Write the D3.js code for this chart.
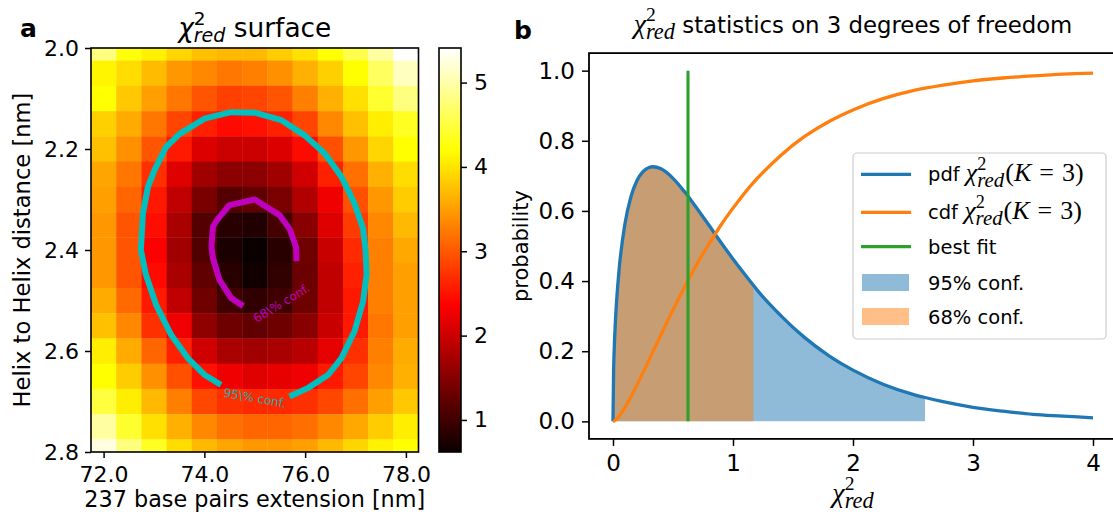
<html>
<head>
<script src="https://d3js.org/d3.v7.min.js"></script>
<style>
body { margin: 0; background: #fff; }
text { font-family: "DejaVu Sans"; fill: #000; }
</style>
</head>
<body>
<svg id="fig" width="1113" height="517"></svg>
<script>
// ---- panel a: chi2_red surface ----
const extension = [72.0, 72.5, 73.0, 73.5, 74.0, 74.5, 75.0, 75.5, 76.0, 76.5, 77.0, 77.5, 78.0];
const helixDist = [2.0, 2.05, 2.1, 2.15, 2.2, 2.25, 2.3, 2.35, 2.4, 2.45, 2.5, 2.55, 2.6, 2.65, 2.7, 2.75, 2.8];
// one row per helix distance, one value per extension
const chiRows = [
  [4.80, 4.25, 4.09, 3.90, 3.74, 3.69, 3.70, 3.83, 3.97, 4.19, 4.55, 4.96, 5.41],
  [4.12, 3.95, 3.71, 3.46, 3.34, 3.22, 3.28, 3.40, 3.63, 3.86, 4.19, 4.65, 5.11],
  [4.20, 3.80, 3.51, 3.22, 2.98, 2.83, 2.86, 2.98, 3.28, 3.63, 3.97, 4.42, 4.80],
  [3.86, 3.59, 3.22, 2.86, 2.60, 2.43, 2.48, 2.60, 2.86, 3.34, 3.74, 4.07, 4.35],
  [3.74, 3.40, 2.98, 2.55, 2.12, 2.00, 2.00, 2.12, 2.44, 2.94, 3.46, 3.89, 4.19],
  [3.55, 3.22, 2.71, 2.14, 1.69, 1.54, 1.54, 1.69, 2.03, 2.60, 3.17, 3.63, 3.95],
  [3.51, 3.10, 2.54, 1.92, 1.42, 1.15, 1.23, 1.42, 1.80, 2.26, 2.94, 3.46, 3.83],
  [3.46, 2.98, 2.46, 1.75, 1.15, 0.83, 0.77, 1.04, 1.52, 2.12, 2.80, 3.34, 3.69],
  [3.46, 2.98, 2.37, 1.69, 1.12, 0.73, 0.62, 0.84, 1.34, 1.98, 2.67, 3.28, 3.57],
  [3.46, 2.98, 2.43, 1.75, 1.23, 0.84, 0.66, 0.89, 1.30, 1.92, 2.60, 3.28, 3.51],
  [3.59, 3.13, 2.55, 1.92, 1.34, 1.00, 0.89, 1.00, 1.34, 1.92, 2.54, 3.28, 3.51],
  [3.74, 3.34, 2.71, 2.26, 1.57, 1.34, 1.23, 1.34, 1.52, 1.98, 2.55, 3.22, 3.51],
  [4.07, 3.59, 3.10, 2.60, 2.03, 1.75, 1.69, 1.75, 1.86, 2.20, 2.71, 3.28, 3.59],
  [4.19, 3.83, 3.40, 2.94, 2.48, 2.26, 2.14, 2.20, 2.26, 2.55, 2.86, 3.34, 3.63],
  [4.50, 4.07, 3.69, 3.28, 2.88, 2.71, 2.66, 2.66, 2.71, 2.88, 3.17, 3.51, 3.80],
  [4.96, 4.42, 3.97, 3.63, 3.34, 3.17, 3.10, 3.10, 3.17, 3.34, 3.57, 3.83, 4.07],
  [5.26, 4.80, 4.35, 3.95, 3.69, 3.55, 3.46, 3.46, 3.51, 3.69, 3.89, 4.09, 4.19]
];
const chiRange = [0.62, 5.41];
// contour lines [extension, helix distance]
const conf95Line = [
  [74.33, 2.667], [74.00, 2.647], [73.67, 2.614], [73.34, 2.568], [73.04, 2.508], [72.84, 2.449],
  [72.74, 2.400], [72.78, 2.328], [72.88, 2.275], [73.01, 2.242], [73.24, 2.196], [73.51, 2.170],
  [74.00, 2.140], [74.53, 2.127], [75.00, 2.128], [75.53, 2.143], [75.99, 2.173], [76.39, 2.209],
  [76.72, 2.255], [76.98, 2.308], [77.15, 2.358], [77.20, 2.400], [77.22, 2.449], [77.15, 2.502],
  [76.98, 2.561], [76.72, 2.614], [76.46, 2.647], [76.06, 2.673], [75.69, 2.690]
];
const conf68Line = [
  [74.77, 2.511], [74.53, 2.495], [74.30, 2.459], [74.17, 2.416], [74.14, 2.394], [74.17, 2.354],
  [74.27, 2.338], [74.50, 2.311], [75.00, 2.300], [75.49, 2.331], [75.69, 2.358], [75.82, 2.394],
  [75.83, 2.422]
];
const aTicksX = [72, 74, 76, 78];
const aTicksY = [2.0, 2.2, 2.4, 2.6, 2.8];
const cbTicks = [1, 2, 3, 4, 5];

// ---- panel b: chi2_red distribution, K = 3 ----
const redChi = [0, 0.005, 0.01, 0.02, 0.03, 0.05, 0.1, 0.15, 0.2, 0.25, 0.3, 0.333, 0.4, 0.5, 0.6, 0.7, 0.8, 0.9, 1.0,
  1.17, 1.2, 1.4, 1.6, 1.8, 2.0, 2.25, 2.5, 2.6, 2.75, 3.0, 3.25, 3.5, 3.75, 4.0];
const pdfVals = [0, 0.146, 0.204, 0.285, 0.343, 0.430, 0.564, 0.641, 0.687, 0.712, 0.724, 0.726, 0.720, 0.693, 0.653, 0.607, 0.559, 0.510, 0.463,
  0.388, 0.375, 0.301, 0.238, 0.187, 0.146, 0.106, 0.077, 0.068, 0.056, 0.040, 0.029, 0.020, 0.015, 0.010];
const cdfVals = [0, 0.0005, 0.0014, 0.0038, 0.0070, 0.0148, 0.040, 0.070, 0.104, 0.139, 0.175, 0.199, 0.247, 0.318, 0.385, 0.449, 0.506, 0.560, 0.608,
  0.681, 0.692, 0.759, 0.813, 0.855, 0.888, 0.920, 0.943, 0.950, 0.959, 0.971, 0.979, 0.985, 0.990, 0.993];
const bestFit = 0.625;
const conf68Limit = 1.17;
const conf95Limit = 2.6;
const bTicksX = [0, 1, 2, 3, 4];
const bTicksY = [0.0, 0.2, 0.4, 0.6, 0.8, 1.0];

const svg = d3.select("#fig");

// matplotlib "hot"
function hot(t) {
  t = Math.max(0, Math.min(1, t));
  const r = t < 0.365079 ? 0.0416 + (1 - 0.0416) * t / 0.365079 : 1;
  const g = t < 0.365079 ? 0 : t < 0.746032 ? (t - 0.365079) / (0.746032 - 0.365079) : 1;
  const b = t < 0.746032 ? 0 : (t - 0.746032) / (1 - 0.746032);
  return d3.rgb(r * 255, g * 255, b * 255).toString();
}

// chi^2 with super/subscript, appended to a text element
function chiRed(t, font, size, supW, subScale) {
  t.append("tspan").attr("font-family", font).attr("font-style", "italic").attr("font-size", size).text("χ");
  t.append("tspan").attr("font-family", font).attr("font-size", size * 0.7).attr("dy", -size * 0.42).text("2");
  t.append("tspan").attr("font-family", font).attr("font-style", "italic")
    .attr("font-size", size * subScale).attr("dx", -supW).attr("dy", size * 0.62).text("red");
}

function styleAxis(g, font, size) {
  g.select(".domain").remove();
  g.selectAll(".tick line").attr("stroke", "#000").attr("stroke-width", 1.5);
  g.selectAll(".tick text").attr("font-family", font).attr("font-size", size).attr("fill", "#000");
}

// ---------- panel a ----------
const xA = d3.scaleLinear().domain([71.75, 78.25]).range([91, 418.5]);
const yA = d3.scaleLinear().domain([2.0, 2.8]).range([48, 452]);
const color = d3.scaleSequential(hot).domain(chiRange);

svg.append("clipPath").attr("id", "clipA").append("rect")
  .attr("x", xA.range()[0]).attr("y", yA.range()[0])
  .attr("width", xA.range()[1] - xA.range()[0]).attr("height", yA.range()[1] - yA.range()[0]);

const halfW = (extension[1] - extension[0]) / 2;
const halfH = (helixDist[1] - helixDist[0]) / 2;
const cells = [];
chiRows.forEach((row, i) => row.forEach((v, j) => cells.push({ x: extension[j], y: helixDist[i], v: v })));

const gA = svg.append("g");
gA.append("g").attr("clip-path", "url(#clipA)")
  .selectAll("rect").data(cells).join("rect")
  .attr("x", d => xA(d.x - halfW))
  .attr("y", d => yA(d.y - halfH))
  .attr("width", xA(d3.min(extension) + halfW) - xA(d3.min(extension) - halfW) + 0.4)
  .attr("height", yA(d3.min(helixDist) + halfH) - yA(d3.min(helixDist) - halfH) + 0.4)
  .attr("fill", d => color(d.v));

const lineA = d3.line().x(d => xA(d[0])).y(d => yA(d[1]));
gA.append("path").attr("d", lineA(conf95Line)).attr("fill", "none")
  .attr("stroke", "#00bfbf").attr("stroke-width", 6).attr("stroke-linejoin", "round");
gA.append("path").attr("d", lineA(conf68Line)).attr("fill", "none")
  .attr("stroke", "#bf00bf").attr("stroke-width", 6).attr("stroke-linejoin", "round");

gA.append("text").attr("transform", `translate(${xA(75.53)},${yA(2.505)}) rotate(-31)`)
  .attr("text-anchor", "middle").attr("dy", "0.35em").attr("font-size", 12)
  .style("fill", "#bf00bf").text("68\\% conf.");
gA.append("text").attr("transform", `translate(${xA(75.0)},${yA(2.693)}) rotate(10)`)
  .attr("text-anchor", "middle").attr("dy", "0.35em").attr("font-size", 12)
  .style("fill", "#1fa8a8").text("95\\% conf.");

gA.append("rect").attr("x", xA.range()[0]).attr("y", yA.range()[0])
  .attr("width", xA.range()[1] - xA.range()[0]).attr("height", yA.range()[1] - yA.range()[0])
  .attr("fill", "none").attr("stroke", "#000").attr("stroke-width", 1.6);

gA.append("g").attr("transform", `translate(0,${yA.range()[1]})`)
  .call(d3.axisBottom(xA).tickValues(aTicksX).tickFormat(d3.format(".1f")).tickSize(6).tickPadding(8))
  .call(g => styleAxis(g, "DejaVu Sans", 22));
gA.append("g").attr("transform", `translate(${xA.range()[0]},0)`)
  .call(d3.axisLeft(yA).tickValues(aTicksY).tickFormat(d3.format(".1f")).tickSize(6).tickPadding(6))
  .call(g => styleAxis(g, "DejaVu Sans", 22));

gA.append("text").attr("x", (xA.range()[0] + xA.range()[1]) / 2).attr("y", 507)
  .attr("text-anchor", "middle").attr("font-size", 22.3).text("237 base pairs extension [nm]");
gA.append("text").attr("transform", `translate(30,${(yA.range()[0] + yA.range()[1]) / 2}) rotate(-90)`)
  .attr("text-anchor", "middle").attr("font-size", 22.6).text("Helix to Helix distance [nm]");

const titleA = gA.append("text").attr("x", (xA.range()[0] + xA.range()[1]) / 2).attr("y", 36.5)
  .attr("text-anchor", "middle").attr("font-size", 26.4);
chiRed(titleA, "DejaVu Sans", 26.4, 26.4 * 0.7 * 0.636, 0.72);
titleA.append("tspan").attr("dy", -26.4 * 0.2).text(" surface");

// colorbar
const yC = d3.scaleLinear().domain(chiRange).range([452, 48]);
const grad = svg.append("defs").append("linearGradient").attr("id", "hotGrad")
  .attr("x1", 0).attr("y1", 1).attr("x2", 0).attr("y2", 0);
d3.range(0, 1.0001, 0.01).forEach(t => {
  grad.append("stop").attr("offset", t).attr("stop-color", hot(t));
});
gA.append("rect").attr("x", 439).attr("y", 48).attr("width", 22).attr("height", 404)
  .attr("fill", "url(#hotGrad)").attr("stroke", "#000").attr("stroke-width", 1.6);
gA.append("g").attr("transform", "translate(461,0)")
  .call(d3.axisRight(yC).tickValues(cbTicks).tickFormat(d3.format("d")).tickSize(6).tickPadding(7))
  .call(g => styleAxis(g, "DejaVu Sans", 22));

svg.append("text").attr("x", 20).attr("y", 37).attr("font-family", "Liberation Sans")
  .attr("font-weight", "bold").attr("font-size", 25).text("a");

// ---------- panel b ----------
const xB = d3.scaleLinear().domain([-0.2, 4.2]).range([589, 1117]);
const yB = d3.scaleLinear().domain([-0.05, 1.05]).range([438.9, 53.1]);
const pts = redChi.map((x, i) => ({ x: x, pdf: pdfVals[i], cdf: cdfVals[i] }));

const gB = svg.append("g");
const area = d3.area().x(d => xB(d.x)).y0(yB(0)).y1(d => yB(d.pdf)).curve(d3.curveMonotoneX);
gB.append("path").attr("d", area(pts.filter(d => d.x <= conf95Limit)))
  .attr("fill", "#1f77b4").attr("fill-opacity", 0.5);
gB.append("path").attr("d", area(pts.filter(d => d.x <= conf68Limit)))
  .attr("fill", "#ff7f0e").attr("fill-opacity", 0.5);

const pdfLine = d3.line().x(d => xB(d.x)).y(d => yB(d.pdf)).curve(d3.curveMonotoneX);
const cdfLine = d3.line().x(d => xB(d.x)).y(d => yB(d.cdf)).curve(d3.curveMonotoneX);
gB.append("path").attr("d", pdfLine(pts)).attr("fill", "none").attr("stroke", "#1f77b4").attr("stroke-width", 3.3);
gB.append("path").attr("d", cdfLine(pts)).attr("fill", "none").attr("stroke", "#ff7f0e").attr("stroke-width", 3.3);
gB.append("line").attr("x1", xB(bestFit)).attr("x2", xB(bestFit)).attr("y1", yB(0)).attr("y2", yB(1))
  .attr("stroke", "#2ca02c").attr("stroke-width", 3.1);

gB.append("rect").attr("x", xB.range()[0]).attr("y", yB.range()[1])
  .attr("width", xB.range()[1] - xB.range()[0]).attr("height", yB.range()[0] - yB.range()[1])
  .attr("fill", "none").attr("stroke", "#000").attr("stroke-width", 1.8);

gB.append("g").attr("transform", `translate(0,${yB.range()[0]})`)
  .call(d3.axisBottom(xB).tickValues(bTicksX).tickFormat(d3.format("d")).tickSize(7).tickPadding(9))
  .call(g => styleAxis(g, "Liberation Serif", 23));
gB.append("g").attr("transform", `translate(${xB.range()[0]},0)`)
  .call(d3.axisLeft(yB).tickValues(bTicksY).tickFormat(d3.format(".1f")).tickSize(7).tickPadding(7))
  .call(g => styleAxis(g, "Liberation Serif", 23));

gB.append("text").attr("transform", `translate(528,${(yB.range()[0] + yB.range()[1]) / 2}) rotate(-90)`)
  .attr("text-anchor", "middle").attr("font-size", 21).text("probability");

const xlabB = gB.append("text").attr("x", 853).attr("y", 502).attr("text-anchor", "middle");
chiRed(xlabB, "Liberation Serif", 28, 28 * 0.7 * 0.5, 0.8);

const titleB = gB.append("text").attr("x", 853).attr("y", 33).attr("text-anchor", "middle").attr("font-size", 22.8);
chiRed(titleB, "Liberation Serif", 28, 28 * 0.7 * 0.5, 0.8);
titleB.append("tspan").attr("dy", -28 * 0.2).text(" statistics on 3 degrees of freedom");

svg.append("text").attr("x", 514).attr("y", 39).attr("font-family", "Liberation Sans")
  .attr("font-weight", "bold").attr("font-size", 25).text("b");

// legend
const legend = gB.append("g");
legend.append("rect").attr("x", 853).attr("y", 153).attr("width", 253).attr("height", 186).attr("rx", 4)
  .attr("fill", "#fff").attr("fill-opacity", 0.8).attr("stroke", "#cccccc").attr("stroke-width", 1.2);
const legendItems = [
  { label: "pdf", kind: "line", color: "#1f77b4", y: 174.3 },
  { label: "cdf", kind: "line", color: "#ff7f0e", y: 212.3 },
  { label: "best fit", kind: "line", color: "#2ca02c", y: 246.7 },
  { label: "95% conf.", kind: "patch", color: "#1f77b4", y: 282.5 },
  { label: "68% conf.", kind: "patch", color: "#ff7f0e", y: 316.5 }
];
const mathSize = 26;
legendItems.forEach((it, i) => {
  if (it.kind === "line") {
    legend.append("line").attr("x1", 861).attr("x2", 911).attr("y1", it.y).attr("y2", it.y)
      .attr("stroke", it.color).attr("stroke-width", 3.3);
  } else {
    legend.append("rect").attr("x", 862).attr("y", it.y - 8.5).attr("width", 47).attr("height", 17)
      .attr("fill", it.color).attr("fill-opacity", 0.5);
  }
  const t = legend.append("text").attr("x", 928).attr("y", it.y + 7).attr("font-size", 19.5);
  t.append("tspan").text(it.label);
  if (i < 2) {
    t.append("tspan").text(" ");
    chiRed(t, "Liberation Serif", mathSize, mathSize * 0.7 * 0.5, 0.8);
    t.append("tspan").attr("font-family", "Liberation Serif").attr("font-size", mathSize).attr("dy", -mathSize * 0.2).attr("dx", 1).text("(");
    t.append("tspan").attr("font-family", "Liberation Serif").attr("font-size", mathSize).attr("font-style", "italic").text("K");
    t.append("tspan").attr("font-family", "Liberation Serif").attr("font-size", mathSize).attr("dx", 8).text("=");
    t.append("tspan").attr("font-family", "Liberation Serif").attr("font-size", mathSize).attr("dx", 8).text("3)");
  }
});
</script>
</body>
</html>
